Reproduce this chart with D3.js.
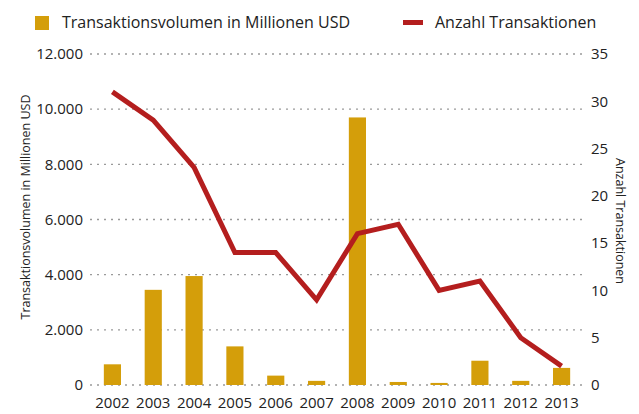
<!DOCTYPE html>
<html>
<head>
<meta charset="utf-8">
<script src="https://cdn.jsdelivr.net/npm/d3@7"></script>
<style>
  body { margin: 0; background: #fff; }
  svg text { font-family: "Open Sans", sans-serif; fill: #222; }
</style>
</head>
<body>
<svg width="639" height="414"></svg>
<script>
//Data
const years = ["2002","2003","2004","2005","2006","2007","2008","2009","2010","2011","2012","2013"];
const volumes = [750, 3450, 3950, 1400, 340, 150, 9700, 110, 75, 880, 150, 620];
const counts = [31, 28, 23, 14, 14, 9, 16, 17, 10, 11, 5, 2];
const leftTicks = [0, 2000, 4000, 6000, 8000, 10000, 12000];
const rightTicks = [0, 5, 10, 15, 20, 25, 30, 35];

const barColor = "#d49e0a",
      lineColor = "#b41e1e";

let svg = d3.select("svg");

let x = d3.scaleBand().domain(years).range([92, 582]).paddingInner(0.58).paddingOuter(0.29),
    yL = d3.scaleLinear().domain([0, 12000]).range([385, 54]),
    yR = d3.scaleLinear().domain([0, 35]).range([385, 54]);

let fmt = d3.format(",");
let deFmt = d => fmt(d).replace(/,/g, ".");

//Dotted grid lines at the left axis ticks
svg.append("g")
  .selectAll("line")
  .data(leftTicks)
  .enter().append("line")
  .attr("x1", 90).attr("x2", 583)
  .attr("y1", d => yL(d)).attr("y2", d => yL(d))
  .attr("stroke", "#9a9a9a")
  .attr("stroke-width", 1.4)
  .attr("stroke-dasharray", "2,5");

//Left axis (labels only)
let leftAxis = svg.append("g")
  .attr("transform", "translate(90,0)")
  .call(d3.axisLeft(yL).tickValues(leftTicks).tickSize(0).tickPadding(7).tickFormat(deFmt));
leftAxis.select(".domain").remove();
leftAxis.selectAll("text").style("font-size", "15px").attr("fill", "#1a1a1a");

//Right axis (labels only)
let rightAxis = svg.append("g")
  .attr("transform", "translate(583,0)")
  .call(d3.axisRight(yR).tickValues(rightTicks).tickSize(0).tickPadding(8));
rightAxis.select(".domain").remove();
rightAxis.selectAll("text").style("font-size", "15px").attr("fill", "#1a1a1a");

//Bars
svg.append("g")
  .selectAll("rect")
  .data(volumes)
  .enter().append("rect")
  .attr("x", (d, i) => x(years[i]))
  .attr("width", x.bandwidth())
  .attr("y", d => yL(d))
  .attr("height", d => yL(0) - yL(d))
  .attr("fill", barColor);

//Line
let line = d3.line()
  .x((d, i) => x(years[i]) + x.bandwidth() / 2)
  .y(d => yR(d));

svg.append("path")
  .datum(counts)
  .attr("d", line)
  .attr("fill", "none")
  .attr("stroke", lineColor)
  .attr("stroke-width", 5);

//X axis labels
let xAxis = svg.append("g")
  .attr("transform", "translate(0,397)")
  .call(d3.axisBottom(x).tickSize(0).tickPadding(0));
xAxis.select(".domain").remove();
xAxis.selectAll("text").style("font-size", "15px").attr("fill", "#1a1a1a");

//Axis titles
svg.append("text")
  .attr("transform", "translate(30,207) rotate(-90)")
  .attr("text-anchor", "middle")
  .style("font-size", "12.5px")
  .text("Transaktionsvolumen in Millionen USD");

svg.append("text")
  .attr("transform", "translate(616,221) rotate(90)")
  .attr("text-anchor", "middle")
  .style("font-size", "12.5px")
  .text("Anzahl Transaktionen");

//Legend
svg.append("rect")
  .attr("x", 35).attr("y", 16)
  .attr("width", 14).attr("height", 14)
  .attr("fill", barColor);
svg.append("text")
  .attr("x", 62).attr("y", 28)
  .style("font-size", "16px")
  .text("Transaktionsvolumen in Millionen USD");

svg.append("line")
  .attr("x1", 403).attr("x2", 423)
  .attr("y1", 22.5).attr("y2", 22.5)
  .attr("stroke", lineColor)
  .attr("stroke-width", 5);
svg.append("text")
  .attr("x", 435).attr("y", 28)
  .style("font-size", "16px")
  .text("Anzahl Transaktionen");
</script>
</body>
</html>
